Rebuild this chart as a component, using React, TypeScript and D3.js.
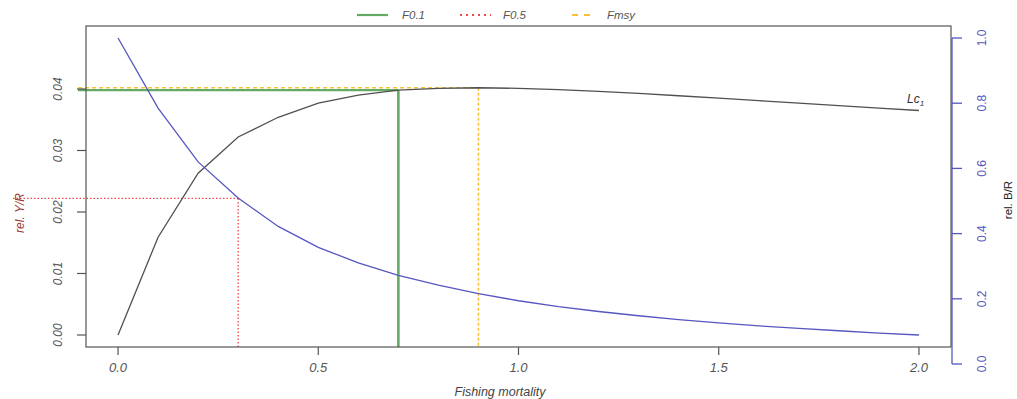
import React from 'react'
import * as d3 from 'd3'

// Fishing mortality grid and the two per-recruit curves
const fishingMortality = [0, 0.1, 0.2, 0.3, 0.4, 0.5, 0.6, 0.7, 0.8, 0.9, 1.0, 1.1, 1.2, 1.3, 1.4, 1.5, 1.6, 1.7, 1.8, 1.9, 2.0]
const yieldPerRecruit = [0, 0.0159, 0.0263, 0.0322, 0.0354, 0.0377, 0.039, 0.0398, 0.0401, 0.0402, 0.0401, 0.0399, 0.0396, 0.0393, 0.0389, 0.0385, 0.0381, 0.0377, 0.0373, 0.0369, 0.0365]
const biomassPerRecruit = [1.0, 0.785, 0.62, 0.509, 0.422, 0.358, 0.31, 0.272, 0.242, 0.216, 0.194, 0.176, 0.161, 0.148, 0.136, 0.126, 0.117, 0.109, 0.102, 0.095, 0.089]

// reference points
const refF01 = 0.7
const refF05 = 0.3
const refFmsy = 0.9
const levelF01 = 0.0398
const levelF05 = 0.0222
const levelFmsy = 0.0402

const xTicks = [0, 0.5, 1.0, 1.5, 2.0]
const leftTicks = [0, 0.01, 0.02, 0.03, 0.04]
const rightTicks = [0, 0.2, 0.4, 0.6, 0.8, 1.0]

const GREEN = '#64aa64'
const RED = '#f04848'
const ORANGE = '#f7c23a'

const legendItems = [
  { label: 'F0.1', color: GREEN, dash: 'none', width: 2.2 },
  { label: 'F0.5', color: RED, dash: '2,4', width: 2 },
  { label: 'Fmsy', color: ORANGE, dash: '6,6', width: 2 },
]

const W = 1017
const H = 399
const FONT = '"Liberation Sans", Arial, Helvetica, sans-serif'
const AXIS = '#555555'
const BLUE = '#5656c0'
const BLACK_CURVE = '#505050'

export default function App() {
  const box = { left: 86, right: 951, top: 26, bottom: 347 }

  const x = d3.scaleLinear().domain([-0.08, 2.08]).range([box.left, box.right])
  const yL = d3.scaleLinear().domain([-0.00195, 0.05024]).range([box.bottom, box.top])
  const yR = d3.scaleLinear().domain([0, 1]).range([364, 38])

  const ypr = fishingMortality.map((f, i) => [f, yieldPerRecruit[i]] as [number, number])
  const bpr = fishingMortality.map((f, i) => [f, biomassPerRecruit[i]] as [number, number])

  const lineL = d3.line<[number, number]>().x(d => x(d[0])).y(d => yL(d[1]))
  const lineR = d3.line<[number, number]>().x(d => x(d[0])).y(d => yR(d[1]))

  const legendX = [357, 460, 572]
  const lastF = fishingMortality[fishingMortality.length - 1]
  const lastY = yieldPerRecruit[yieldPerRecruit.length - 1]

  return (
    <svg width={W} height={H} style={{ position: 'absolute', left: 0, top: 0, background: '#fff', fontFamily: FONT }}>
      {/* legend */}
      {legendItems.map((it, i) => (
        <g key={it.label}>
          <line x1={legendX[i]} x2={legendX[i] + (i === 2 ? 20 : 31)} y1={15} y2={15}
            stroke={it.color} strokeWidth={it.width} strokeDasharray={it.dash} />
          <text x={legendX[i] + (i === 0 ? 45 : i === 1 ? 43 : 35)} y={19} fontSize={11.5}
            fontStyle="italic" fill={AXIS}>{it.label}</text>
        </g>
      ))}

      {/* reference lines */}
      <line x1={13} x2={x(refF05)} y1={yL(levelF05)} y2={yL(levelF05)} stroke={RED} strokeWidth={1.3} strokeDasharray="1.5,2" />
      <line x1={x(refF05)} x2={x(refF05)} y1={yL(levelF05)} y2={box.bottom} stroke={RED} strokeWidth={1.3} strokeDasharray="1.5,2" />
      <line x1={78} x2={x(refF01)} y1={yL(levelF01)} y2={yL(levelF01)} stroke={GREEN} strokeWidth={2.2} />
      <line x1={x(refF01)} x2={x(refF01)} y1={yL(levelF01)} y2={box.bottom} stroke={GREEN} strokeWidth={2.6} />
      <line x1={78} x2={x(refFmsy)} y1={yL(levelFmsy)} y2={yL(levelFmsy)} stroke={ORANGE} strokeWidth={1.6} strokeDasharray="4,3" />
      <line x1={x(refFmsy)} x2={x(refFmsy)} y1={yL(levelFmsy)} y2={box.bottom} stroke={ORANGE} strokeWidth={1.6} strokeDasharray="3,2" />

      {/* curves */}
      <path d={lineL(ypr) ?? ''} fill="none" stroke={BLACK_CURVE} strokeWidth={1.3} />
      <path d={lineR(bpr) ?? ''} fill="none" stroke={BLUE} strokeWidth={1.3} />
      <text x={x(lastF) - 12} y={yL(lastY) - 8} fontSize={12} fontStyle="italic" fill="#333">
        Lc<tspan fontSize={8} dy={3}>1</tspan>
      </text>

      {/* plot box */}
      <rect x={box.left} y={box.top} width={box.right - box.left} height={box.bottom - box.top}
        fill="none" stroke={AXIS} strokeWidth={1.2} />

      {/* bottom axis */}
      {xTicks.map(t => (
        <g key={t}>
          <line x1={x(t)} x2={x(t)} y1={box.bottom} y2={box.bottom + 8} stroke={AXIS} strokeWidth={1.2} />
          <text x={x(t)} y={372} textAnchor="middle" fontSize={13} fontStyle="italic" fill={AXIS}>
            {d3.format('.1f')(t)}
          </text>
        </g>
      ))}
      <text x={500} y={396} textAnchor="middle" fontSize={12.5} fontStyle="italic" fill="#444">Fishing mortality</text>

      {/* left axis */}
      {leftTicks.map(t => (
        <g key={t}>
          <line x1={box.left - 9} x2={box.left} y1={yL(t)} y2={yL(t)} stroke={AXIS} strokeWidth={1.2} />
          <text transform={`translate(58,${yL(t)}) rotate(-90)`} dy="0.35em" textAnchor="middle"
            fontSize={12} fontStyle="italic" fill={AXIS}>{d3.format('.2f')(t)}</text>
        </g>
      ))}
      <text transform={`translate(20,213) rotate(-90)`} dy="0.35em" textAnchor="middle" fontSize={12}
        fontStyle="italic" fill="#9a3a36">rel. Y/R</text>

      {/* right axis */}
      <line x1={952} x2={952} y1={yR(1)} y2={yR(0)} stroke={BLUE} strokeWidth={1.3} />
      {rightTicks.map(t => (
        <g key={t}>
          <line x1={952} x2={962} y1={yR(t)} y2={yR(t)} stroke={BLUE} strokeWidth={1.3} />
          <text transform={`translate(982,${yR(t)}) rotate(-90)`} dy="0.35em" textAnchor="middle"
            fontSize={12} fill={BLUE}>{d3.format('.1f')(t)}</text>
        </g>
      ))}
      <text transform={`translate(1008,200) rotate(-90)`} dy="0.35em" textAnchor="middle" fontSize={11.5}
        fill="#222">rel. B/R</text>
    </svg>
  )
}
